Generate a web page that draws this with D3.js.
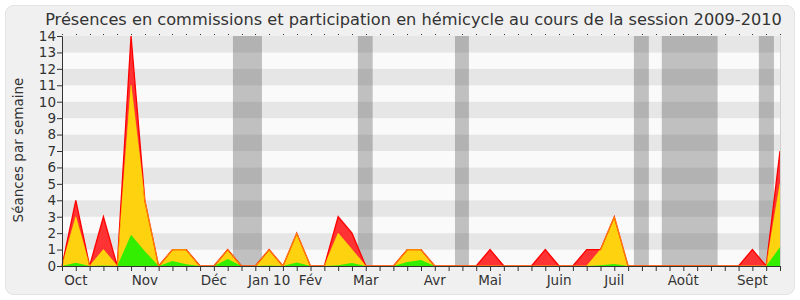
<!DOCTYPE html>
<html><head><meta charset="utf-8">
<script src="https://cdn.jsdelivr.net/npm/d3@7"></script>
<style>body{margin:0;background:#fff;} text{font-family:"DejaVu Sans",Verdana,sans-serif;fill:#333;}</style>
</head><body><svg id="c" width="800" height="300"></svg>
<script>
// week index 0..52
const weeks = d3.range(53);
const hemicycle = [0,4,0,3,0,14,4,0,1,1,0,0,1,0,0,1,0,2,0,0,3,2,0,0,0,1,1,0,0,0,0,1,0,0,0,1,0,0,1,1,3,0,0,0,0,0,0,0,0,0,1,0,7];
const commission = [0,3,0,1,0,11,4,0,1,1,0,0,1,0,0,1,0,2,0,0,2,1,0,0,0,1,1,0,0,0,0,0,0,0,0,0,0,0,0,1,3,0,0,0,0,0,0,0,0,0,0,0,5];
const interventions = [0,0.2,0,0.03,0,1.9,0.9,0,0.3,0.1,0,0,0.42,0,0,0.03,0,0.22,0,0,0.05,0.18,0,0,0,0.25,0.36,0,0,0,0,0,0,0,0,0,0,0,0,0.05,0.12,0,0,0,0,0,0,0,0,0,0,0,1.15];
const vacations = [[12.38,14.48],[21.43,22.5],[28.46,29.47],[41.42,42.5],[43.44,47.48],[50.47,51.56]];
const monthLabels = ["Oct","Nov","Déc","Jan 10","Fév","Mar","Avr","Mai","Juin","Juil","Août","Sept"];
const monthWeeks = [1,6,11,15,18,22,27,31,36,40,45,50];
const yTicks = d3.range(0,15);
const title = "Présences en commissions et participation en hémicycle au cours de la session 2009-2010";
const yLabel = "Séances par semaine";

const svg = d3.select("#c");
const L=62,R=780,T=36,B=266;
const x = d3.scaleLinear().domain([0,52]).range([L,R]);
const y = d3.scaleLinear().domain([0,14]).range([B,T]);

svg.append("rect").attr("x",5.5).attr("y",5.5).attr("width",789).attr("height",289).attr("rx",8)
  .attr("fill","#f0f0f0").attr("stroke","#e2e2e2");

// stripes
svg.append("g").selectAll("rect").data(d3.range(0,14)).join("rect")
  .attr("x",L).attr("width",R-L).attr("y",d=>y(d+1)).attr("height",d=>y(d)-y(d+1))
  .attr("fill",d=>d%2===1?"#e6e6e6":"#fafafa");

// vacations
svg.append("g").selectAll("rect").data(vacations).join("rect")
  .attr("x",d=>x(d[0])).attr("width",d=>x(d[1])-x(d[0])).attr("y",T).attr("height",B-T)
  .attr("fill","rgb(60,60,60)").attr("fill-opacity",0.3);

const area = vals => d3.area().x((d,i)=>x(weeks[i])).y0(y(0)).y1((d)=>y(d))(vals);
const line = vals => d3.line().x((d,i)=>x(weeks[i])).y(d=>y(d))(vals);

svg.append("path").attr("d",area(hemicycle)).attr("fill","#ff3333");
svg.append("path").attr("d",area(commission)).attr("fill","#ffd20f");
svg.append("path").attr("d",area(interventions)).attr("fill","#33ee00");
svg.append("path").attr("d",line(hemicycle)).attr("fill","none").attr("stroke","#ff0000").attr("stroke-width",1.3);
svg.append("path").attr("d",line(commission)).attr("fill","none").attr("stroke","#ffee00").attr("stroke-width",1).attr("stroke-opacity",0.6);

// right border
svg.append("line").attr("x1",R+0.5).attr("x2",R+0.5).attr("y1",T).attr("y2",B).attr("stroke","#d0d0d0");

// top dots
svg.append("g").selectAll("rect").data(weeks).join("rect")
  .attr("x",d=>Math.round(x(d))).attr("y",T-2).attr("width",1).attr("height",1).attr("fill","#333");

// axes
const ya = d3.axisLeft(y).tickValues(yTicks).tickSize(5).tickFormat(d3.format("d"));
const gy = svg.append("g").attr("transform",`translate(${L},0)`).call(ya);
gy.selectAll("text").style("font-size","13.5px").attr("x",-6).attr("fill","#333");
gy.selectAll("line,path").attr("stroke","#333");

const xa = d3.axisBottom(x).tickValues(weeks).tickSize(5).tickFormat("");
const gx = svg.append("g").attr("transform",`translate(0,${B})`).call(xa);
gx.selectAll("line,path").attr("stroke","#333");
gx.select("path").attr("d",`M${L},0.5H${R}`);

svg.append("g").selectAll("text").data(monthLabels).join("text")
  .attr("x",(d,i)=>x(monthWeeks[i])).attr("y",285).attr("text-anchor","middle")
  .style("font-size","13.5px").text(d=>d);

svg.append("text").attr("x",413.5).attr("y",25).attr("text-anchor","middle").style("font-size","16.2px").text(title);
svg.append("text").attr("transform","translate(23,150) rotate(-90)").attr("text-anchor","middle").style("font-size","13.5px").text(yLabel);
</script></body></html>
